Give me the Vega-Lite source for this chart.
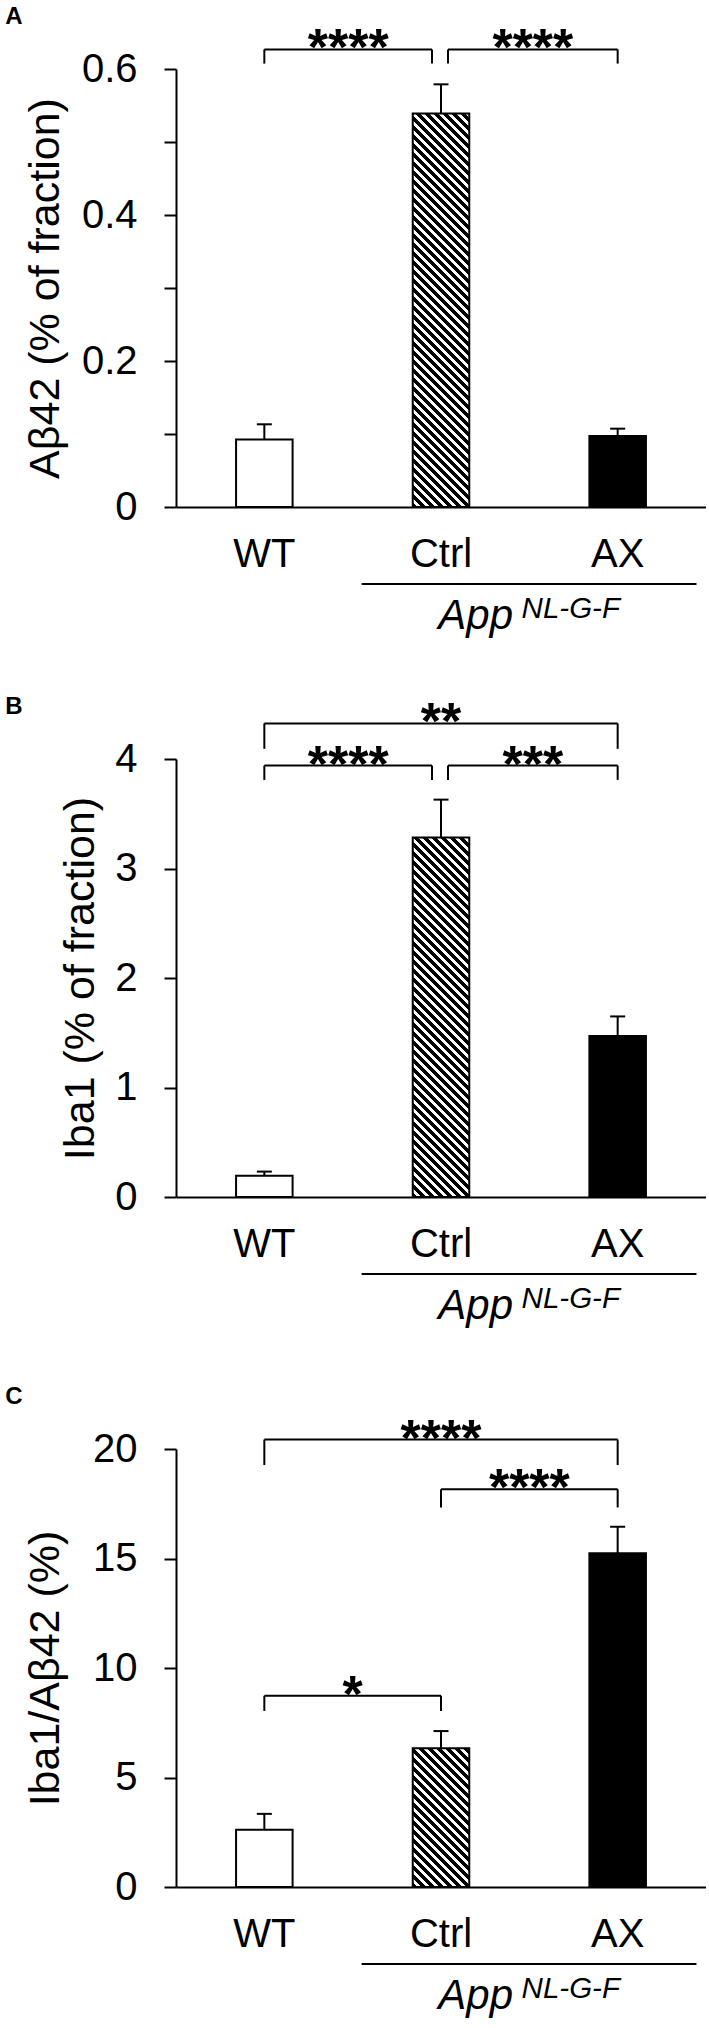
{
"$schema": "https://vega.github.io/schema/vega-lite/v6.json",
"padding": {"left": 5, "top": 5, "right": 0, "bottom": 5},
"background": "white",
"spacing": 252,
"bounds": "flush",
"datasets": {
"barsA": [{"group":"WT","mean":0.0925,"upper":0.1133},{"group":"Ctrl","mean":0.539,"upper":0.579},{"group":"AX","mean":0.0972,"upper":0.1073}],
"barsB": [{"group":"WT","mean":0.195,"upper":0.232},{"group":"Ctrl","mean":3.282,"upper":3.629},{"group":"AX","mean":1.47,"upper":1.649}],
"barsC": [{"group":"WT","mean":2.61,"upper":3.34},{"group":"Ctrl","mean":6.33,"upper":7.12},{"group":"AX","mean":15.24,"upper":16.45}],
"brkA": [{"from":"WT","to":"Ctrl","y":0.6268,"yt":0.6074,"stars":"****","type":"L"},{"from":"Ctrl","to":"AX","y":0.6268,"yt":0.6074,"stars":"****","type":"R"}],
"brkB": [{"from":"WT","to":"Ctrl","y":3.94,"yt":3.809,"stars":"****","type":"L"},{"from":"Ctrl","to":"AX","y":3.94,"yt":3.809,"stars":"***","type":"R"},{"from":"WT","to":"AX","y":4.325,"yt":4.093,"stars":"**","type":"W"}],
"brkC": [{"from":"WT","to":"AX","y":20.43,"yt":19.27,"stars":"****","type":"W"},{"from":"Ctrl","to":"AX","y":18.16,"yt":17.33,"stars":"****","type":"N"},{"from":"WT","to":"Ctrl","y":8.73,"yt":8.04,"stars":"*","type":"N"}],
"annA": [{"letter":"A","main":"App","sup":"NL-G-F"}],
"annB": [{"letter":"B","main":"App","sup":"NL-G-F"}],
"annC": [{"letter":"C","main":"App","sup":"NL-G-F"}]
},
"vconcat": [
{
"width": 530, "height": 438,
"layer": [
{"data":{"name":"barsA"},"transform":[{"filter":"datum.group !== 'Ctrl'"}],"mark":{"type":"bar","stroke":"black","strokeWidth":2,"opacity":1},
 "encoding":{"x":{"field":"group","type":"nominal","sort":null,"scale":{"domain":["WT","Ctrl","AX"],"paddingInner":0.68,"paddingOuter":0.34},"axis":{"title":null}},
 "y":{"field":"mean","type":"quantitative","scale":{"domain":[0,0.6],"nice":false},"axis":{"title":"Aβ42 (% of fraction)","format":"~g","values":[0,0.1,0.2,0.3,0.4,0.5,0.6],"labelExpr":"datum.value === 0 || datum.value === 0.2 || datum.value === 0.4 || datum.value === 0.6 ? datum.label : ''","titlePadding":14}},
 "fill":{"condition":{"test":"datum.group === 'AX'","value":"black"},"value":"white"}}},
{"data":{"name":"barsA"},"transform":[{"filter":"datum.group === 'Ctrl'"}],"mark":{"type":"bar","stroke":"black","strokeWidth":2,"opacity":1,"fill":{"gradient":"linear","x1":0,"y1":1,"x2":0.3218,"y2":-1.241,"stops":[
{"offset":0,"color":"#000"},{"offset":0.0055,"color":"#000"},{"offset":0.0055,"color":"#fff"},{"offset":0.01,"color":"#fff"},
{"offset":0.01,"color":"#000"},{"offset":0.0155,"color":"#000"},{"offset":0.0155,"color":"#fff"},{"offset":0.02,"color":"#fff"},
{"offset":0.02,"color":"#000"},{"offset":0.0255,"color":"#000"},{"offset":0.0255,"color":"#fff"},{"offset":0.03,"color":"#fff"},
{"offset":0.03,"color":"#000"},{"offset":0.0355,"color":"#000"},{"offset":0.0355,"color":"#fff"},{"offset":0.04,"color":"#fff"},
{"offset":0.04,"color":"#000"},{"offset":0.0455,"color":"#000"},{"offset":0.0455,"color":"#fff"},{"offset":0.05,"color":"#fff"},
{"offset":0.05,"color":"#000"},{"offset":0.0555,"color":"#000"},{"offset":0.0555,"color":"#fff"},{"offset":0.06,"color":"#fff"},
{"offset":0.06,"color":"#000"},{"offset":0.0655,"color":"#000"},{"offset":0.0655,"color":"#fff"},{"offset":0.07,"color":"#fff"},
{"offset":0.07,"color":"#000"},{"offset":0.0755,"color":"#000"},{"offset":0.0755,"color":"#fff"},{"offset":0.08,"color":"#fff"},
{"offset":0.08,"color":"#000"},{"offset":0.0855,"color":"#000"},{"offset":0.0855,"color":"#fff"},{"offset":0.09,"color":"#fff"},
{"offset":0.09,"color":"#000"},{"offset":0.0955,"color":"#000"},{"offset":0.0955,"color":"#fff"},{"offset":0.1,"color":"#fff"},
{"offset":0.1,"color":"#000"},{"offset":0.1055,"color":"#000"},{"offset":0.1055,"color":"#fff"},{"offset":0.11,"color":"#fff"},
{"offset":0.11,"color":"#000"},{"offset":0.1155,"color":"#000"},{"offset":0.1155,"color":"#fff"},{"offset":0.12,"color":"#fff"},
{"offset":0.12,"color":"#000"},{"offset":0.1255,"color":"#000"},{"offset":0.1255,"color":"#fff"},{"offset":0.13,"color":"#fff"},
{"offset":0.13,"color":"#000"},{"offset":0.1355,"color":"#000"},{"offset":0.1355,"color":"#fff"},{"offset":0.14,"color":"#fff"},
{"offset":0.14,"color":"#000"},{"offset":0.1455,"color":"#000"},{"offset":0.1455,"color":"#fff"},{"offset":0.15,"color":"#fff"},
{"offset":0.15,"color":"#000"},{"offset":0.1555,"color":"#000"},{"offset":0.1555,"color":"#fff"},{"offset":0.16,"color":"#fff"},
{"offset":0.16,"color":"#000"},{"offset":0.1655,"color":"#000"},{"offset":0.1655,"color":"#fff"},{"offset":0.17,"color":"#fff"},
{"offset":0.17,"color":"#000"},{"offset":0.1755,"color":"#000"},{"offset":0.1755,"color":"#fff"},{"offset":0.18,"color":"#fff"},
{"offset":0.18,"color":"#000"},{"offset":0.1855,"color":"#000"},{"offset":0.1855,"color":"#fff"},{"offset":0.19,"color":"#fff"},
{"offset":0.19,"color":"#000"},{"offset":0.1955,"color":"#000"},{"offset":0.1955,"color":"#fff"},{"offset":0.2,"color":"#fff"},
{"offset":0.2,"color":"#000"},{"offset":0.2055,"color":"#000"},{"offset":0.2055,"color":"#fff"},{"offset":0.21,"color":"#fff"},
{"offset":0.21,"color":"#000"},{"offset":0.2155,"color":"#000"},{"offset":0.2155,"color":"#fff"},{"offset":0.22,"color":"#fff"},
{"offset":0.22,"color":"#000"},{"offset":0.2255,"color":"#000"},{"offset":0.2255,"color":"#fff"},{"offset":0.23,"color":"#fff"},
{"offset":0.23,"color":"#000"},{"offset":0.2355,"color":"#000"},{"offset":0.2355,"color":"#fff"},{"offset":0.24,"color":"#fff"},
{"offset":0.24,"color":"#000"},{"offset":0.2455,"color":"#000"},{"offset":0.2455,"color":"#fff"},{"offset":0.25,"color":"#fff"},
{"offset":0.25,"color":"#000"},{"offset":0.2555,"color":"#000"},{"offset":0.2555,"color":"#fff"},{"offset":0.26,"color":"#fff"},
{"offset":0.26,"color":"#000"},{"offset":0.2655,"color":"#000"},{"offset":0.2655,"color":"#fff"},{"offset":0.27,"color":"#fff"},
{"offset":0.27,"color":"#000"},{"offset":0.2755,"color":"#000"},{"offset":0.2755,"color":"#fff"},{"offset":0.28,"color":"#fff"},
{"offset":0.28,"color":"#000"},{"offset":0.2855,"color":"#000"},{"offset":0.2855,"color":"#fff"},{"offset":0.29,"color":"#fff"},
{"offset":0.29,"color":"#000"},{"offset":0.2955,"color":"#000"},{"offset":0.2955,"color":"#fff"},{"offset":0.3,"color":"#fff"},
{"offset":0.3,"color":"#000"},{"offset":0.3055,"color":"#000"},{"offset":0.3055,"color":"#fff"},{"offset":0.31,"color":"#fff"},
{"offset":0.31,"color":"#000"},{"offset":0.3155,"color":"#000"},{"offset":0.3155,"color":"#fff"},{"offset":0.32,"color":"#fff"},
{"offset":0.32,"color":"#000"},{"offset":0.3255,"color":"#000"},{"offset":0.3255,"color":"#fff"},{"offset":0.33,"color":"#fff"},
{"offset":0.33,"color":"#000"},{"offset":0.3355,"color":"#000"},{"offset":0.3355,"color":"#fff"},{"offset":0.34,"color":"#fff"},
{"offset":0.34,"color":"#000"},{"offset":0.3455,"color":"#000"},{"offset":0.3455,"color":"#fff"},{"offset":0.35,"color":"#fff"},
{"offset":0.35,"color":"#000"},{"offset":0.3555,"color":"#000"},{"offset":0.3555,"color":"#fff"},{"offset":0.36,"color":"#fff"},
{"offset":0.36,"color":"#000"},{"offset":0.3655,"color":"#000"},{"offset":0.3655,"color":"#fff"},{"offset":0.37,"color":"#fff"},
{"offset":0.37,"color":"#000"},{"offset":0.3755,"color":"#000"},{"offset":0.3755,"color":"#fff"},{"offset":0.38,"color":"#fff"},
{"offset":0.38,"color":"#000"},{"offset":0.3855,"color":"#000"},{"offset":0.3855,"color":"#fff"},{"offset":0.39,"color":"#fff"},
{"offset":0.39,"color":"#000"},{"offset":0.3955,"color":"#000"},{"offset":0.3955,"color":"#fff"},{"offset":0.4,"color":"#fff"},
{"offset":0.4,"color":"#000"},{"offset":0.4055,"color":"#000"},{"offset":0.4055,"color":"#fff"},{"offset":0.41,"color":"#fff"},
{"offset":0.41,"color":"#000"},{"offset":0.4155,"color":"#000"},{"offset":0.4155,"color":"#fff"},{"offset":0.42,"color":"#fff"},
{"offset":0.42,"color":"#000"},{"offset":0.4255,"color":"#000"},{"offset":0.4255,"color":"#fff"},{"offset":0.43,"color":"#fff"},
{"offset":0.43,"color":"#000"},{"offset":0.4355,"color":"#000"},{"offset":0.4355,"color":"#fff"},{"offset":0.44,"color":"#fff"},
{"offset":0.44,"color":"#000"},{"offset":0.4455,"color":"#000"},{"offset":0.4455,"color":"#fff"},{"offset":0.45,"color":"#fff"},
{"offset":0.45,"color":"#000"},{"offset":0.4555,"color":"#000"},{"offset":0.4555,"color":"#fff"},{"offset":0.46,"color":"#fff"},
{"offset":0.46,"color":"#000"},{"offset":0.4655,"color":"#000"},{"offset":0.4655,"color":"#fff"},{"offset":0.47,"color":"#fff"},
{"offset":0.47,"color":"#000"},{"offset":0.4755,"color":"#000"},{"offset":0.4755,"color":"#fff"},{"offset":0.48,"color":"#fff"},
{"offset":0.48,"color":"#000"},{"offset":0.4855,"color":"#000"},{"offset":0.4855,"color":"#fff"},{"offset":0.49,"color":"#fff"},
{"offset":0.49,"color":"#000"},{"offset":0.4955,"color":"#000"},{"offset":0.4955,"color":"#fff"},{"offset":0.5,"color":"#fff"},
{"offset":0.5,"color":"#000"},{"offset":0.5055,"color":"#000"},{"offset":0.5055,"color":"#fff"},{"offset":0.51,"color":"#fff"}
]}},
 "encoding":{"x":{"field":"group","type":"nominal"},"y":{"field":"mean","type":"quantitative"}}},
{"data":{"name":"barsA"},"mark":{"type":"rule","color":"black","strokeWidth":2},"encoding":{"x":{"field":"group","type":"nominal"},"y":{"field":"mean","type":"quantitative"},"y2":{"field":"upper"}}},
{"data":{"name":"barsA"},"mark":{"type":"tick","orient":"horizontal","size":15,"thickness":2,"color":"black","opacity":1},"encoding":{"x":{"field":"group","type":"nominal"},"y":{"field":"upper","type":"quantitative"}}},
{"data":{"name":"brkA"},"transform":[{"filter":"datum.type === 'L'"}],"mark":{"type":"rule","color":"black","strokeWidth":2,"x2Offset":-9},"encoding":{"x":{"field":"from","type":"nominal"},"x2":{"field":"to"},"y":{"field":"y","type":"quantitative"}}},
{"data":{"name":"brkA"},"transform":[{"filter":"datum.type === 'R'"}],"mark":{"type":"rule","color":"black","strokeWidth":2,"xOffset":7},"encoding":{"x":{"field":"from","type":"nominal"},"x2":{"field":"to"},"y":{"field":"y","type":"quantitative"}}},
{"data":{"name":"brkA"},"transform":[{"filter":"datum.type !== 'R'"}],"mark":{"type":"rule","color":"black","strokeWidth":2},"encoding":{"x":{"field":"from","type":"nominal"},"y":{"field":"y","type":"quantitative"},"y2":{"field":"yt"}}},
{"data":{"name":"brkA"},"transform":[{"filter":"datum.type === 'R'"}],"mark":{"type":"rule","color":"black","strokeWidth":2,"xOffset":7},"encoding":{"x":{"field":"from","type":"nominal"},"y":{"field":"y","type":"quantitative"},"y2":{"field":"yt"}}},
{"data":{"name":"brkA"},"transform":[{"filter":"datum.type !== 'L'"}],"mark":{"type":"rule","color":"black","strokeWidth":2},"encoding":{"x":{"field":"to","type":"nominal"},"y":{"field":"y","type":"quantitative"},"y2":{"field":"yt"}}},
{"data":{"name":"brkA"},"transform":[{"filter":"datum.type === 'L'"}],"mark":{"type":"rule","color":"black","strokeWidth":2,"xOffset":-9},"encoding":{"x":{"field":"to","type":"nominal"},"y":{"field":"y","type":"quantitative"},"y2":{"field":"yt"}}},
{"data":{"name":"brkA"},"transform":[{"filter":"datum.type === 'L'"}],"mark":{"type":"text","fontSize":52,"fontWeight":"bold","color":"black","align":"center","baseline":"alphabetic","dx":-92.8,"dy":16},"encoding":{"x":{"field":"to","type":"nominal"},"y":{"field":"y","type":"quantitative"},"text":{"field":"stars"}}},
{"data":{"name":"brkA"},"transform":[{"filter":"datum.type === 'R'"}],"mark":{"type":"text","fontSize":52,"fontWeight":"bold","color":"black","align":"center","baseline":"alphabetic","dx":-84.8,"dy":16},"encoding":{"x":{"field":"to","type":"nominal"},"y":{"field":"y","type":"quantitative"},"text":{"field":"stars"}}},
{"data":{"name":"annA"},"mark":{"type":"rule","color":"black","strokeWidth":2,"xOffset":-79.4,"x2Offset":78.8},"encoding":{"x":{"datum":"Ctrl","type":"nominal"},"x2":{"datum":"AX"},"y":{"datum":-0.1055,"type":"quantitative"}}},
{"data":{"name":"annA"},"mark":{"type":"text","fontSize":42,"fontStyle":"italic","color":"black","align":"right","baseline":"alphabetic","dx":72},"encoding":{"x":{"datum":"Ctrl","type":"nominal"},"y":{"datum":-0.1671,"type":"quantitative"},"text":{"field":"main"}}},
{"data":{"name":"annA"},"mark":{"type":"text","fontSize":29.5,"fontStyle":"italic","color":"black","align":"left","baseline":"alphabetic","dx":80.6,"dy":-11},"encoding":{"x":{"datum":"Ctrl","type":"nominal"},"y":{"datum":-0.1671,"type":"quantitative"},"text":{"field":"sup"}}},
{"data":{"name":"annA"},"mark":{"type":"text","fontSize":24,"fontWeight":"bold","color":"black","align":"left","baseline":"alphabetic","dx":-259},"encoding":{"x":{"datum":"WT","type":"nominal"},"y":{"datum":0.6616,"type":"quantitative"},"text":{"field":"letter"}}}
]
},
{
"width": 530, "height": 438,
"layer": [
{"data":{"name":"barsB"},"transform":[{"filter":"datum.group !== 'Ctrl'"}],"mark":{"type":"bar","stroke":"black","strokeWidth":2,"opacity":1},
 "encoding":{"x":{"field":"group","type":"nominal","sort":null,"scale":{"domain":["WT","Ctrl","AX"],"paddingInner":0.68,"paddingOuter":0.34},"axis":{"title":null}},
 "y":{"field":"mean","type":"quantitative","scale":{"domain":[0,4],"nice":false},"axis":{"title":"Iba1 (% of fraction)","format":"~g","values":[0,1,2,3,4],"titlePadding":12}},
 "fill":{"condition":{"test":"datum.group === 'AX'","value":"black"},"value":"white"}}},
{"data":{"name":"barsB"},"transform":[{"filter":"datum.group === 'Ctrl'"}],"mark":{"type":"bar","stroke":"black","strokeWidth":2,"opacity":1,"fill":{"gradient":"linear","x1":0,"y1":1,"x2":0.3842,"y2":-1.4438,"stops":[
{"offset":0,"color":"#000"},{"offset":0.0055,"color":"#000"},{"offset":0.0055,"color":"#fff"},{"offset":0.01,"color":"#fff"},
{"offset":0.01,"color":"#000"},{"offset":0.0155,"color":"#000"},{"offset":0.0155,"color":"#fff"},{"offset":0.02,"color":"#fff"},
{"offset":0.02,"color":"#000"},{"offset":0.0255,"color":"#000"},{"offset":0.0255,"color":"#fff"},{"offset":0.03,"color":"#fff"},
{"offset":0.03,"color":"#000"},{"offset":0.0355,"color":"#000"},{"offset":0.0355,"color":"#fff"},{"offset":0.04,"color":"#fff"},
{"offset":0.04,"color":"#000"},{"offset":0.0455,"color":"#000"},{"offset":0.0455,"color":"#fff"},{"offset":0.05,"color":"#fff"},
{"offset":0.05,"color":"#000"},{"offset":0.0555,"color":"#000"},{"offset":0.0555,"color":"#fff"},{"offset":0.06,"color":"#fff"},
{"offset":0.06,"color":"#000"},{"offset":0.0655,"color":"#000"},{"offset":0.0655,"color":"#fff"},{"offset":0.07,"color":"#fff"},
{"offset":0.07,"color":"#000"},{"offset":0.0755,"color":"#000"},{"offset":0.0755,"color":"#fff"},{"offset":0.08,"color":"#fff"},
{"offset":0.08,"color":"#000"},{"offset":0.0855,"color":"#000"},{"offset":0.0855,"color":"#fff"},{"offset":0.09,"color":"#fff"},
{"offset":0.09,"color":"#000"},{"offset":0.0955,"color":"#000"},{"offset":0.0955,"color":"#fff"},{"offset":0.1,"color":"#fff"},
{"offset":0.1,"color":"#000"},{"offset":0.1055,"color":"#000"},{"offset":0.1055,"color":"#fff"},{"offset":0.11,"color":"#fff"},
{"offset":0.11,"color":"#000"},{"offset":0.1155,"color":"#000"},{"offset":0.1155,"color":"#fff"},{"offset":0.12,"color":"#fff"},
{"offset":0.12,"color":"#000"},{"offset":0.1255,"color":"#000"},{"offset":0.1255,"color":"#fff"},{"offset":0.13,"color":"#fff"},
{"offset":0.13,"color":"#000"},{"offset":0.1355,"color":"#000"},{"offset":0.1355,"color":"#fff"},{"offset":0.14,"color":"#fff"},
{"offset":0.14,"color":"#000"},{"offset":0.1455,"color":"#000"},{"offset":0.1455,"color":"#fff"},{"offset":0.15,"color":"#fff"},
{"offset":0.15,"color":"#000"},{"offset":0.1555,"color":"#000"},{"offset":0.1555,"color":"#fff"},{"offset":0.16,"color":"#fff"},
{"offset":0.16,"color":"#000"},{"offset":0.1655,"color":"#000"},{"offset":0.1655,"color":"#fff"},{"offset":0.17,"color":"#fff"},
{"offset":0.17,"color":"#000"},{"offset":0.1755,"color":"#000"},{"offset":0.1755,"color":"#fff"},{"offset":0.18,"color":"#fff"},
{"offset":0.18,"color":"#000"},{"offset":0.1855,"color":"#000"},{"offset":0.1855,"color":"#fff"},{"offset":0.19,"color":"#fff"},
{"offset":0.19,"color":"#000"},{"offset":0.1955,"color":"#000"},{"offset":0.1955,"color":"#fff"},{"offset":0.2,"color":"#fff"},
{"offset":0.2,"color":"#000"},{"offset":0.2055,"color":"#000"},{"offset":0.2055,"color":"#fff"},{"offset":0.21,"color":"#fff"},
{"offset":0.21,"color":"#000"},{"offset":0.2155,"color":"#000"},{"offset":0.2155,"color":"#fff"},{"offset":0.22,"color":"#fff"},
{"offset":0.22,"color":"#000"},{"offset":0.2255,"color":"#000"},{"offset":0.2255,"color":"#fff"},{"offset":0.23,"color":"#fff"},
{"offset":0.23,"color":"#000"},{"offset":0.2355,"color":"#000"},{"offset":0.2355,"color":"#fff"},{"offset":0.24,"color":"#fff"},
{"offset":0.24,"color":"#000"},{"offset":0.2455,"color":"#000"},{"offset":0.2455,"color":"#fff"},{"offset":0.25,"color":"#fff"},
{"offset":0.25,"color":"#000"},{"offset":0.2555,"color":"#000"},{"offset":0.2555,"color":"#fff"},{"offset":0.26,"color":"#fff"},
{"offset":0.26,"color":"#000"},{"offset":0.2655,"color":"#000"},{"offset":0.2655,"color":"#fff"},{"offset":0.27,"color":"#fff"},
{"offset":0.27,"color":"#000"},{"offset":0.2755,"color":"#000"},{"offset":0.2755,"color":"#fff"},{"offset":0.28,"color":"#fff"},
{"offset":0.28,"color":"#000"},{"offset":0.2855,"color":"#000"},{"offset":0.2855,"color":"#fff"},{"offset":0.29,"color":"#fff"},
{"offset":0.29,"color":"#000"},{"offset":0.2955,"color":"#000"},{"offset":0.2955,"color":"#fff"},{"offset":0.3,"color":"#fff"},
{"offset":0.3,"color":"#000"},{"offset":0.3055,"color":"#000"},{"offset":0.3055,"color":"#fff"},{"offset":0.31,"color":"#fff"},
{"offset":0.31,"color":"#000"},{"offset":0.3155,"color":"#000"},{"offset":0.3155,"color":"#fff"},{"offset":0.32,"color":"#fff"},
{"offset":0.32,"color":"#000"},{"offset":0.3255,"color":"#000"},{"offset":0.3255,"color":"#fff"},{"offset":0.33,"color":"#fff"},
{"offset":0.33,"color":"#000"},{"offset":0.3355,"color":"#000"},{"offset":0.3355,"color":"#fff"},{"offset":0.34,"color":"#fff"},
{"offset":0.34,"color":"#000"},{"offset":0.3455,"color":"#000"},{"offset":0.3455,"color":"#fff"},{"offset":0.35,"color":"#fff"},
{"offset":0.35,"color":"#000"},{"offset":0.3555,"color":"#000"},{"offset":0.3555,"color":"#fff"},{"offset":0.36,"color":"#fff"},
{"offset":0.36,"color":"#000"},{"offset":0.3655,"color":"#000"},{"offset":0.3655,"color":"#fff"},{"offset":0.37,"color":"#fff"},
{"offset":0.37,"color":"#000"},{"offset":0.3755,"color":"#000"},{"offset":0.3755,"color":"#fff"},{"offset":0.38,"color":"#fff"},
{"offset":0.38,"color":"#000"},{"offset":0.3855,"color":"#000"},{"offset":0.3855,"color":"#fff"},{"offset":0.39,"color":"#fff"},
{"offset":0.39,"color":"#000"},{"offset":0.3955,"color":"#000"},{"offset":0.3955,"color":"#fff"},{"offset":0.4,"color":"#fff"},
{"offset":0.4,"color":"#000"},{"offset":0.4055,"color":"#000"},{"offset":0.4055,"color":"#fff"},{"offset":0.41,"color":"#fff"},
{"offset":0.41,"color":"#000"},{"offset":0.4155,"color":"#000"},{"offset":0.4155,"color":"#fff"},{"offset":0.42,"color":"#fff"},
{"offset":0.42,"color":"#000"},{"offset":0.4255,"color":"#000"},{"offset":0.4255,"color":"#fff"},{"offset":0.43,"color":"#fff"},
{"offset":0.43,"color":"#000"},{"offset":0.4355,"color":"#000"},{"offset":0.4355,"color":"#fff"},{"offset":0.44,"color":"#fff"},
{"offset":0.44,"color":"#000"},{"offset":0.4455,"color":"#000"},{"offset":0.4455,"color":"#fff"},{"offset":0.45,"color":"#fff"},
{"offset":0.45,"color":"#000"},{"offset":0.4555,"color":"#000"},{"offset":0.4555,"color":"#fff"},{"offset":0.46,"color":"#fff"},
{"offset":0.46,"color":"#000"},{"offset":0.4655,"color":"#000"},{"offset":0.4655,"color":"#fff"},{"offset":0.47,"color":"#fff"}
]}},
 "encoding":{"x":{"field":"group","type":"nominal"},"y":{"field":"mean","type":"quantitative"}}},
{"data":{"name":"barsB"},"mark":{"type":"rule","color":"black","strokeWidth":2},"encoding":{"x":{"field":"group","type":"nominal"},"y":{"field":"mean","type":"quantitative"},"y2":{"field":"upper"}}},
{"data":{"name":"barsB"},"mark":{"type":"tick","orient":"horizontal","size":15,"thickness":2,"color":"black","opacity":1},"encoding":{"x":{"field":"group","type":"nominal"},"y":{"field":"upper","type":"quantitative"}}},
{"data":{"name":"brkB"},"transform":[{"filter":"datum.type === 'W'"}],"mark":{"type":"rule","color":"black","strokeWidth":2},"encoding":{"x":{"field":"from","type":"nominal"},"x2":{"field":"to"},"y":{"field":"y","type":"quantitative"}}},
{"data":{"name":"brkB"},"transform":[{"filter":"datum.type === 'L'"}],"mark":{"type":"rule","color":"black","strokeWidth":2,"x2Offset":-9},"encoding":{"x":{"field":"from","type":"nominal"},"x2":{"field":"to"},"y":{"field":"y","type":"quantitative"}}},
{"data":{"name":"brkB"},"transform":[{"filter":"datum.type === 'R'"}],"mark":{"type":"rule","color":"black","strokeWidth":2,"xOffset":7},"encoding":{"x":{"field":"from","type":"nominal"},"x2":{"field":"to"},"y":{"field":"y","type":"quantitative"}}},
{"data":{"name":"brkB"},"transform":[{"filter":"datum.type !== 'R'"}],"mark":{"type":"rule","color":"black","strokeWidth":2},"encoding":{"x":{"field":"from","type":"nominal"},"y":{"field":"y","type":"quantitative"},"y2":{"field":"yt"}}},
{"data":{"name":"brkB"},"transform":[{"filter":"datum.type === 'R'"}],"mark":{"type":"rule","color":"black","strokeWidth":2,"xOffset":7},"encoding":{"x":{"field":"from","type":"nominal"},"y":{"field":"y","type":"quantitative"},"y2":{"field":"yt"}}},
{"data":{"name":"brkB"},"transform":[{"filter":"datum.type !== 'L'"}],"mark":{"type":"rule","color":"black","strokeWidth":2},"encoding":{"x":{"field":"to","type":"nominal"},"y":{"field":"y","type":"quantitative"},"y2":{"field":"yt"}}},
{"data":{"name":"brkB"},"transform":[{"filter":"datum.type === 'L'"}],"mark":{"type":"rule","color":"black","strokeWidth":2,"xOffset":-9},"encoding":{"x":{"field":"to","type":"nominal"},"y":{"field":"y","type":"quantitative"},"y2":{"field":"yt"}}},
{"data":{"name":"brkB"},"transform":[{"filter":"datum.type === 'L'"}],"mark":{"type":"text","fontSize":52,"fontWeight":"bold","color":"black","align":"center","baseline":"alphabetic","dx":-92.8,"dy":16},"encoding":{"x":{"field":"to","type":"nominal"},"y":{"field":"y","type":"quantitative"},"text":{"field":"stars"}}},
{"data":{"name":"brkB"},"transform":[{"filter":"datum.type === 'R'"}],"mark":{"type":"text","fontSize":52,"fontWeight":"bold","color":"black","align":"center","baseline":"alphabetic","dx":-84.8,"dy":16},"encoding":{"x":{"field":"to","type":"nominal"},"y":{"field":"y","type":"quantitative"},"text":{"field":"stars"}}},
{"data":{"name":"brkB"},"transform":[{"filter":"datum.type === 'W'"}],"mark":{"type":"text","fontSize":52,"fontWeight":"bold","color":"black","align":"center","baseline":"alphabetic","dx":-176.7,"dy":16},"encoding":{"x":{"field":"to","type":"nominal"},"y":{"field":"y","type":"quantitative"},"text":{"field":"stars"}}},
{"data":{"name":"annB"},"mark":{"type":"rule","color":"black","strokeWidth":2,"xOffset":-79.4,"x2Offset":78.8},"encoding":{"x":{"datum":"Ctrl","type":"nominal"},"x2":{"datum":"AX"},"y":{"datum":-0.7032,"type":"quantitative"}}},
{"data":{"name":"annB"},"mark":{"type":"text","fontSize":42,"fontStyle":"italic","color":"black","align":"right","baseline":"alphabetic","dx":72},"encoding":{"x":{"datum":"Ctrl","type":"nominal"},"y":{"datum":-1.1142,"type":"quantitative"},"text":{"field":"main"}}},
{"data":{"name":"annB"},"mark":{"type":"text","fontSize":29.5,"fontStyle":"italic","color":"black","align":"left","baseline":"alphabetic","dx":80.6,"dy":-11},"encoding":{"x":{"datum":"Ctrl","type":"nominal"},"y":{"datum":-1.1142,"type":"quantitative"},"text":{"field":"sup"}}},
{"data":{"name":"annB"},"mark":{"type":"text","fontSize":24,"fontWeight":"bold","color":"black","align":"left","baseline":"alphabetic","dx":-259},"encoding":{"x":{"datum":"WT","type":"nominal"},"y":{"datum":4.411,"type":"quantitative"},"text":{"field":"letter"}}}
]
},
{
"width": 530, "height": 438,
"layer": [
{"data":{"name":"barsC"},"transform":[{"filter":"datum.group !== 'Ctrl'"}],"mark":{"type":"bar","stroke":"black","strokeWidth":2,"opacity":1},
 "encoding":{"x":{"field":"group","type":"nominal","sort":null,"scale":{"domain":["WT","Ctrl","AX"],"paddingInner":0.68,"paddingOuter":0.34},"axis":{"title":null}},
 "y":{"field":"mean","type":"quantitative","scale":{"domain":[0,20],"nice":false},"axis":{"title":"Iba1/Aβ42 (%)","format":"~g","values":[0,5,10,15,20],"titlePadding":25}},
 "fill":{"condition":{"test":"datum.group === 'AX'","value":"black"},"value":"white"}}},
{"data":{"name":"barsC"},"transform":[{"filter":"datum.group === 'Ctrl'"}],"mark":{"type":"bar","stroke":"black","strokeWidth":2,"opacity":1,"fill":{"gradient":"linear","x1":0,"y1":1,"x2":2.2699,"y2":-4.5683,"stops":[
{"offset":0,"color":"#000"},{"offset":0.0055,"color":"#000"},{"offset":0.0055,"color":"#fff"},{"offset":0.01,"color":"#fff"},
{"offset":0.01,"color":"#000"},{"offset":0.0155,"color":"#000"},{"offset":0.0155,"color":"#fff"},{"offset":0.02,"color":"#fff"},
{"offset":0.02,"color":"#000"},{"offset":0.0255,"color":"#000"},{"offset":0.0255,"color":"#fff"},{"offset":0.03,"color":"#fff"},
{"offset":0.03,"color":"#000"},{"offset":0.0355,"color":"#000"},{"offset":0.0355,"color":"#fff"},{"offset":0.04,"color":"#fff"},
{"offset":0.04,"color":"#000"},{"offset":0.0455,"color":"#000"},{"offset":0.0455,"color":"#fff"},{"offset":0.05,"color":"#fff"},
{"offset":0.05,"color":"#000"},{"offset":0.0555,"color":"#000"},{"offset":0.0555,"color":"#fff"},{"offset":0.06,"color":"#fff"},
{"offset":0.06,"color":"#000"},{"offset":0.0655,"color":"#000"},{"offset":0.0655,"color":"#fff"},{"offset":0.07,"color":"#fff"},
{"offset":0.07,"color":"#000"},{"offset":0.0755,"color":"#000"},{"offset":0.0755,"color":"#fff"},{"offset":0.08,"color":"#fff"},
{"offset":0.08,"color":"#000"},{"offset":0.0855,"color":"#000"},{"offset":0.0855,"color":"#fff"},{"offset":0.09,"color":"#fff"},
{"offset":0.09,"color":"#000"},{"offset":0.0955,"color":"#000"},{"offset":0.0955,"color":"#fff"},{"offset":0.1,"color":"#fff"},
{"offset":0.1,"color":"#000"},{"offset":0.1055,"color":"#000"},{"offset":0.1055,"color":"#fff"},{"offset":0.11,"color":"#fff"},
{"offset":0.11,"color":"#000"},{"offset":0.1155,"color":"#000"},{"offset":0.1155,"color":"#fff"},{"offset":0.12,"color":"#fff"},
{"offset":0.12,"color":"#000"},{"offset":0.1255,"color":"#000"},{"offset":0.1255,"color":"#fff"},{"offset":0.13,"color":"#fff"},
{"offset":0.13,"color":"#000"},{"offset":0.1355,"color":"#000"},{"offset":0.1355,"color":"#fff"},{"offset":0.14,"color":"#fff"},
{"offset":0.14,"color":"#000"},{"offset":0.1455,"color":"#000"},{"offset":0.1455,"color":"#fff"},{"offset":0.15,"color":"#fff"},
{"offset":0.15,"color":"#000"},{"offset":0.1555,"color":"#000"},{"offset":0.1555,"color":"#fff"},{"offset":0.16,"color":"#fff"},
{"offset":0.16,"color":"#000"},{"offset":0.1655,"color":"#000"},{"offset":0.1655,"color":"#fff"},{"offset":0.17,"color":"#fff"},
{"offset":0.17,"color":"#000"},{"offset":0.1755,"color":"#000"},{"offset":0.1755,"color":"#fff"},{"offset":0.18,"color":"#fff"},
{"offset":0.18,"color":"#000"},{"offset":0.1855,"color":"#000"},{"offset":0.1855,"color":"#fff"},{"offset":0.19,"color":"#fff"},
{"offset":0.19,"color":"#000"},{"offset":0.1955,"color":"#000"},{"offset":0.1955,"color":"#fff"},{"offset":0.2,"color":"#fff"},
{"offset":0.2,"color":"#000"},{"offset":0.2055,"color":"#000"},{"offset":0.2055,"color":"#fff"},{"offset":0.21,"color":"#fff"},
{"offset":0.21,"color":"#000"},{"offset":0.2155,"color":"#000"},{"offset":0.2155,"color":"#fff"},{"offset":0.22,"color":"#fff"}
]}},
 "encoding":{"x":{"field":"group","type":"nominal"},"y":{"field":"mean","type":"quantitative"}}},
{"data":{"name":"barsC"},"mark":{"type":"rule","color":"black","strokeWidth":2},"encoding":{"x":{"field":"group","type":"nominal"},"y":{"field":"mean","type":"quantitative"},"y2":{"field":"upper"}}},
{"data":{"name":"barsC"},"mark":{"type":"tick","orient":"horizontal","size":15,"thickness":2,"color":"black","opacity":1},"encoding":{"x":{"field":"group","type":"nominal"},"y":{"field":"upper","type":"quantitative"}}},
{"data":{"name":"brkC"},"mark":{"type":"rule","color":"black","strokeWidth":2},"encoding":{"x":{"field":"from","type":"nominal"},"x2":{"field":"to"},"y":{"field":"y","type":"quantitative"}}},
{"data":{"name":"brkC"},"mark":{"type":"rule","color":"black","strokeWidth":2},"encoding":{"x":{"field":"from","type":"nominal"},"y":{"field":"y","type":"quantitative"},"y2":{"field":"yt"}}},
{"data":{"name":"brkC"},"mark":{"type":"rule","color":"black","strokeWidth":2},"encoding":{"x":{"field":"to","type":"nominal"},"y":{"field":"y","type":"quantitative"},"y2":{"field":"yt"}}},
{"data":{"name":"brkC"},"transform":[{"filter":"datum.type === 'N'"}],"mark":{"type":"text","fontSize":52,"fontWeight":"bold","color":"black","align":"center","baseline":"alphabetic","dx":-88.3,"dy":16},"encoding":{"x":{"field":"to","type":"nominal"},"y":{"field":"y","type":"quantitative"},"text":{"field":"stars"}}},
{"data":{"name":"brkC"},"transform":[{"filter":"datum.type === 'W'"}],"mark":{"type":"text","fontSize":52,"fontWeight":"bold","color":"black","align":"center","baseline":"alphabetic","dx":-176.7,"dy":16},"encoding":{"x":{"field":"to","type":"nominal"},"y":{"field":"y","type":"quantitative"},"text":{"field":"stars"}}},
{"data":{"name":"annC"},"mark":{"type":"rule","color":"black","strokeWidth":2,"xOffset":-79.4,"x2Offset":78.8},"encoding":{"x":{"datum":"Ctrl","type":"nominal"},"x2":{"datum":"AX"},"y":{"datum":-3.516,"type":"quantitative"}}},
{"data":{"name":"annC"},"mark":{"type":"text","fontSize":42,"fontStyle":"italic","color":"black","align":"right","baseline":"alphabetic","dx":72},"encoding":{"x":{"datum":"Ctrl","type":"nominal"},"y":{"datum":-5.571,"type":"quantitative"},"text":{"field":"main"}}},
{"data":{"name":"annC"},"mark":{"type":"text","fontSize":29.5,"fontStyle":"italic","color":"black","align":"left","baseline":"alphabetic","dx":80.6,"dy":-11},"encoding":{"x":{"datum":"Ctrl","type":"nominal"},"y":{"datum":-5.571,"type":"quantitative"},"text":{"field":"sup"}}},
{"data":{"name":"annC"},"mark":{"type":"text","fontSize":24,"fontWeight":"bold","color":"black","align":"left","baseline":"alphabetic","dx":-259},"encoding":{"x":{"datum":"WT","type":"nominal"},"y":{"datum":22.055,"type":"quantitative"},"text":{"field":"letter"}}}
]
}
],
"config": {
"font": "Liberation Sans",
"view": {"stroke": null},
"axis": {"grid": false, "domainColor": "black", "domainWidth": 2, "tickColor": "black", "tickWidth": 2, "labelColor": "black", "labelFontSize": 40, "labelFont": "Liberation Sans", "titleFont": "Liberation Sans", "titleFontSize": 43, "titleFontWeight": "normal", "titleColor": "black", "labelOverlap": false, "labelBound": false},
"axisX": {"ticks": false, "tickSize": 0, "labelPadding": 27, "labelAngle": 0},
"axisY": {"tickSize": 12, "labelPadding": 27, "labelFlush": false}
}
}
